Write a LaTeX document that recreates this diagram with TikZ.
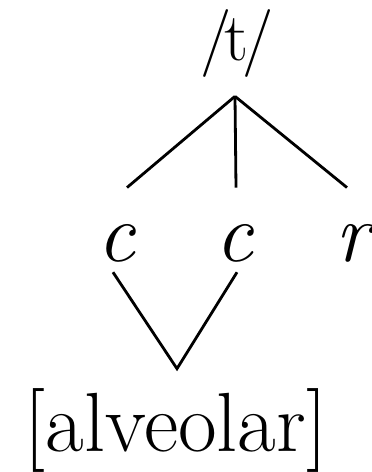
\documentclass[tikz,border=0pt]{standalone}
\usepackage{tikz}
\usetikzlibrary{positioning}

\begin{document}
\begin{tikzpicture}[x=1pt, y=1pt, line width=2.8pt,
  seg/.style={anchor=base, inner sep=0pt, font=\fontsize{84}{90}\selectfont},
  phon/.style={seg, font=\fontsize{68}{72}\selectfont}]
  \useasboundingbox (0,0) rectangle (372,-472);
  \node[phon] (t) at (237,-60) {/\kern-0.1em t\kern-0.1em/};
  \node[seg] (c1) at (117,-261) {\textit{c}};
  \node[seg] (c2) at (235,-261) {\textit{c}};
  \node[seg] (r) at (356,-261) {\textit{r}};
  \node[seg] (alv) at (176,-451) {[alveolar]};
  % association lines
  \coordinate (top) at ([xshift=-2pt, yshift=-18pt]t.south);
  \draw (top) -- ([xshift=10pt, yshift=35pt]c1.north);
  \draw (top) -- ([xshift=1pt, yshift=35pt]c2.north);
  \draw (top) -- ([xshift=-9pt, yshift=35pt]r.north);
  \coordinate (bot) at ([xshift=1pt, yshift=18pt]alv.north);
  \draw ([xshift=-4pt, yshift=-9pt]c1.south) -- (bot) -- ([xshift=2pt, yshift=-9pt]c2.south);
\end{tikzpicture}
\end{document}
